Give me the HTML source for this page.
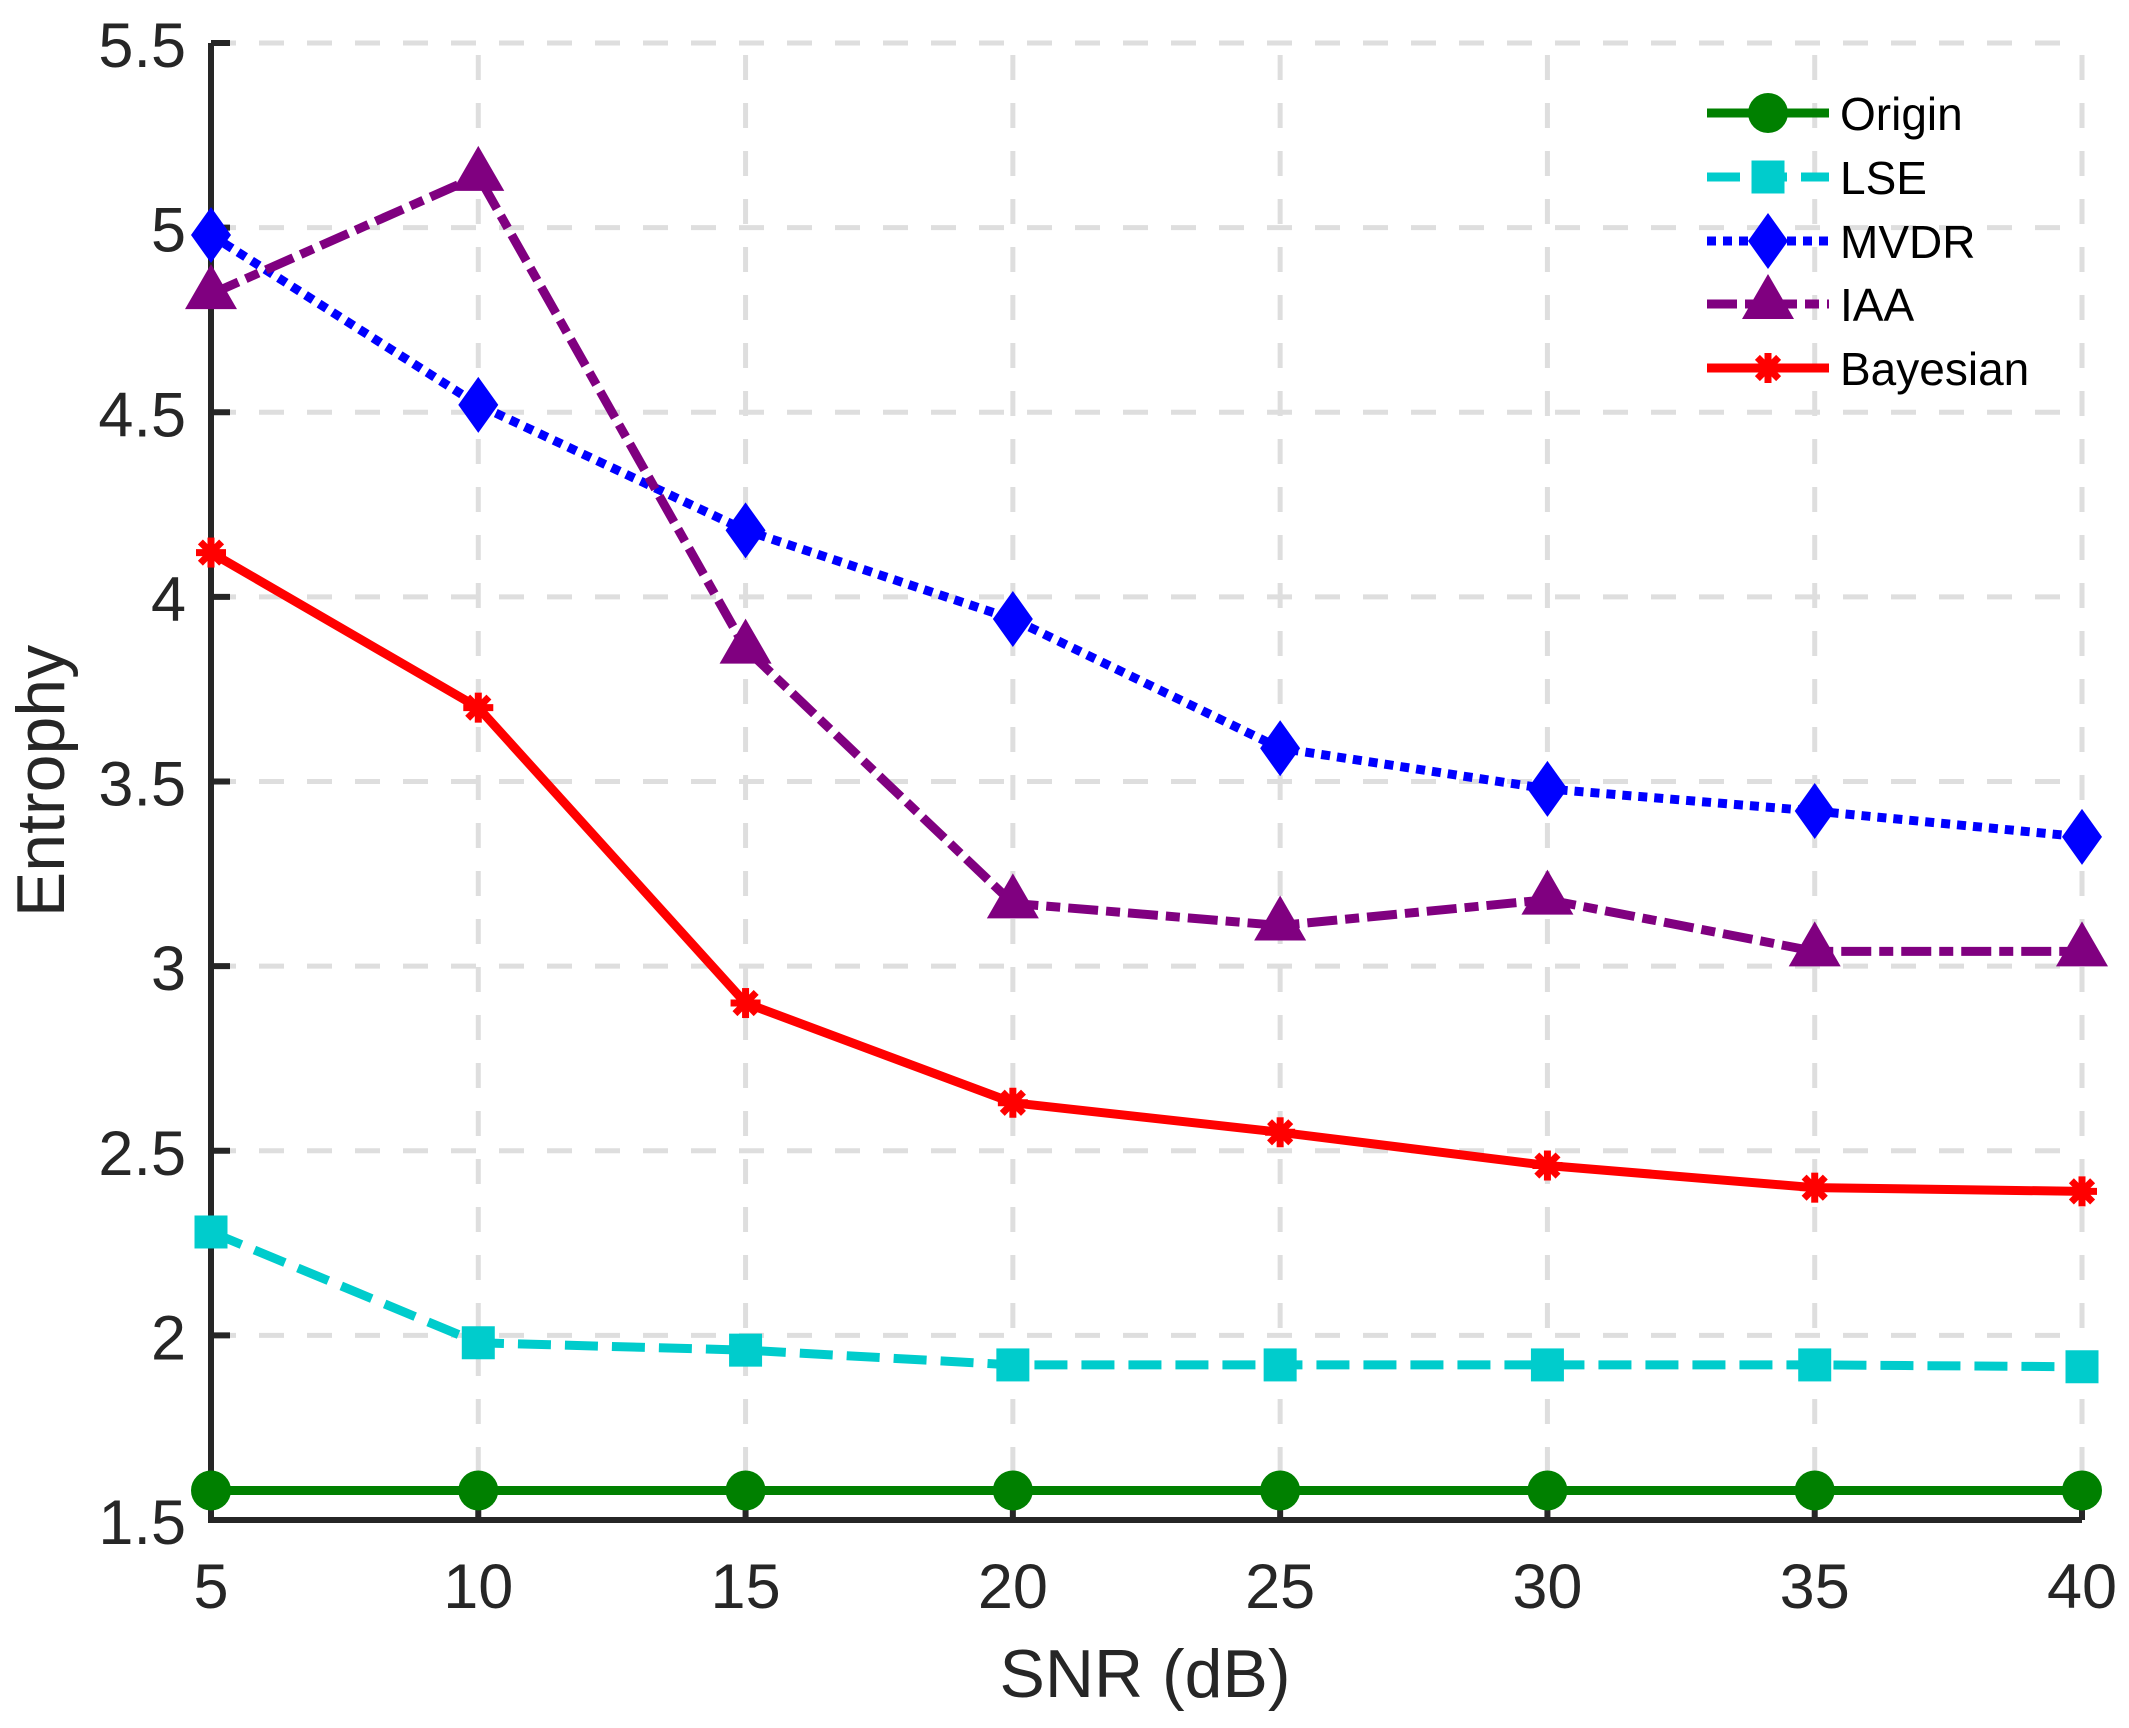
<!DOCTYPE html>
<html><head><meta charset="utf-8"><style>html,body{margin:0;padding:0;background:#fff}svg{display:block}</style></head>
<body>
<svg id="s" width="2129" height="1728" xmlns="http://www.w3.org/2000/svg" font-family="Liberation Sans, Arial, sans-serif"></svg>
<script>
const s=document.getElementById('s');
const X=v=>211+(v-5)/35*(2082-211);
const Y=v=>1520-(v-1.5)/4*(1520-43);
let h='';
for(let v=5;v<=40;v+=5){if(v>5)h+=`<line x1="${X(v)}" y1="1520" x2="${X(v)}" y2="43" stroke="#dedede" stroke-width="5" stroke-dasharray="25,23"/>`;}
for(let k=0;k<=8;k++){const v=1.5+k*0.5;if(k>0)h+=`<line x1="211" y1="${Y(v)}" x2="2082" y2="${Y(v)}" stroke="#dedede" stroke-width="5" stroke-dasharray="25,23"/>`;}
h+=`<path d="M211,43 V1520 H2082" fill="none" stroke="#262626" stroke-width="6"/>`;
for(let v=5;v<=40;v+=5){h+=`<line x1="${X(v)}" y1="1520" x2="${X(v)}" y2="1502" stroke="#262626" stroke-width="6"/>`;
h+=`<text x="${X(v)}" y="1608" font-size="63" text-anchor="middle" fill="#262626">${v}</text>`;}
for(let k=0;k<=8;k++){const v=1.5+k*0.5;h+=`<line x1="211" y1="${Y(v)}" x2="230" y2="${Y(v)}" stroke="#262626" stroke-width="6"/>`;
h+=`<text x="186" y="${Y(v)+24}" font-size="63" text-anchor="end" fill="#262626">${Number.isInteger(v)?v:v.toFixed(1)}</text>`;}
h+=`<text x="1145" y="1697" font-size="68" text-anchor="middle" fill="#262626">SNR (dB)</text>`;
h+=`<text transform="translate(64,781) rotate(-90)" font-size="68" text-anchor="middle" fill="#262626">Entrophy</text>`;
const xs=[5,10,15,20,25,30,35,40];
const ser=[
{n:'Origin',c:'#008000',d:'',m:'o',v:[1.58,1.58,1.58,1.58,1.58,1.58,1.58,1.58]},
{n:'LSE',c:'#00cccc',d:'33,14',m:'s',v:[2.28,1.98,1.96,1.92,1.92,1.92,1.92,1.915]},
{n:'MVDR',c:'#0000ff',d:'9,7',m:'d',v:[4.98,4.52,4.18,3.94,3.59,3.48,3.42,3.35]},
{n:'IAA',c:'#800080',d:'30,8,14,8',m:'t',v:[4.82,5.14,3.86,3.17,3.11,3.18,3.04,3.04]},
{n:'Bayesian',c:'#ff0000',d:'',m:'*',v:[4.12,3.70,2.90,2.63,2.55,2.46,2.40,2.39]}];
function mk(m,x,y,c){
 if(m=='o')return `<circle cx="${x}" cy="${y}" r="20" fill="${c}"/>`;
 if(m=='s')return `<rect x="${x-16.5}" y="${y-16.5}" width="33" height="33" fill="${c}"/>`;
 if(m=='d')return `<polygon points="${x},${y-28} ${x+20},${y} ${x},${y+28} ${x-20},${y}" fill="${c}"/>`;
 if(m=='t')return `<polygon points="${x},${y-30} ${x+26},${y+15} ${x-26},${y+15}" fill="${c}"/>`;
 let r='';for(let a=0;a<180;a+=45){r+=`<line x1="${x-15*Math.cos(a*Math.PI/180)}" y1="${y-15*Math.sin(a*Math.PI/180)}" x2="${x+15*Math.cos(a*Math.PI/180)}" y2="${y+15*Math.sin(a*Math.PI/180)}" stroke="${c}" stroke-width="7"/>`;}
 return r+`<circle cx="${x}" cy="${y}" r="9" fill="${c}"/>`;
}
ser.forEach((S,i)=>{
 const p=xs.map((x,j)=>`${X(x)},${Y(S.v[j])}`).join(' ');
 h+=`<polyline points="${p}" fill="none" stroke="${S.c}" stroke-width="9" ${S.d?`stroke-dasharray="${S.d}"`:''}/>`;
 xs.forEach((x,j)=>h+=mk(S.m,X(x),Y(S.v[j]),S.c));
 const ly=[113,177,241,304,368][i];
 h+=`<line x1="1707" y1="${ly}" x2="1829" y2="${ly}" stroke="${S.c}" stroke-width="9" ${S.d?`stroke-dasharray="${S.d}"`:''}/>`;
 h+=mk(S.m,1768,ly,S.c);
 h+=`<text x="1840" y="${ly+17}" font-size="46" fill="#000">${S.n}</text>`;
});
s.innerHTML=h;
</script>
</body></html>
